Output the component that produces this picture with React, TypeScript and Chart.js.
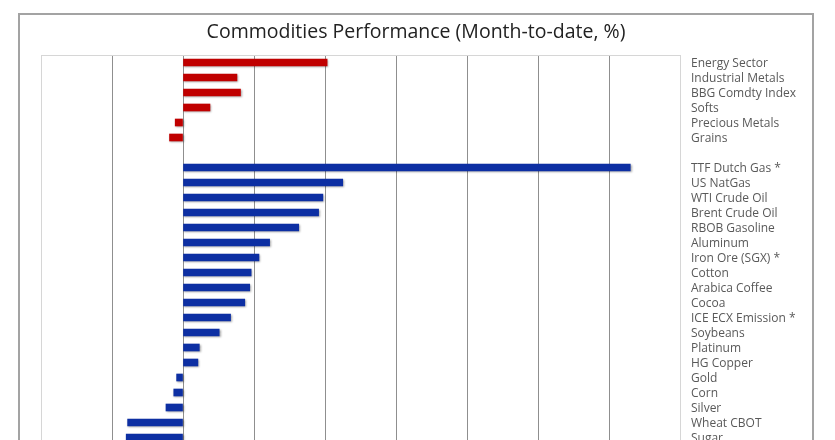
import React, { useEffect, useRef } from "react";
import { Chart, registerables } from "chart.js";

Chart.register(...registerables);

const titleText = "Commodities Performance (Month-to-date, %)";
const sectorLabels = ["Energy Sector", "Industrial Metals", "BBG Comdty Index", "Softs", "Precious Metals", "Grains"];
const sectorValues = [20.3, 7.6, 8.1, 3.8, -1.1, -1.9];
const commodityLabels = [
  "TTF Dutch Gas *", "US NatGas", "WTI Crude Oil", "Brent Crude Oil", "RBOB Gasoline", "Aluminum",
  "Iron Ore (SGX) *", "Cotton", "Arabica Coffee", "Cocoa", "ICE ECX Emission *", "Soybeans",
  "Platinum", "HG Copper", "Gold", "Corn", "Silver", "Wheat CBOT", "Sugar",
];
const commodityValues = [63.0, 22.5, 19.7, 19.1, 16.3, 12.2, 10.7, 9.6, 9.4, 8.7, 6.7, 5.1, 2.3, 2.1, -0.9, -1.3, -2.4, -7.8, -8.0];
const xMin = -20;
const xMax = 70;
const xStep = 10;

export default function App() {
  const ref = useRef<HTMLCanvasElement | null>(null);

  useEffect(() => {
    if (!ref.current) return;
    const labels = [...sectorLabels, "", ...commodityLabels];
    const sectorData = [...sectorValues, ...new Array(1 + commodityLabels.length).fill(null)];
    const commodityData = [...new Array(sectorLabels.length + 1).fill(null), ...commodityValues];

    const titlePlugin = {
      id: "customTitle",
      afterDraw(chart: any) {
        const ctx = chart.ctx;
        ctx.save();
        ctx.font = "19.5px 'Open Sans'";
        ctx.fillStyle = "#222222";
        ctx.textAlign = "center";
        ctx.textBaseline = "middle";
        ctx.fillText(titleText, chart.width / 2, 17);
        ctx.restore();
      },
    };
    const borderPlugin = {
      id: "plotBorder",
      beforeDatasetsDraw(chart: any) {
        const { ctx, chartArea: a } = chart;
        ctx.save();
        ctx.strokeStyle = "#d6d6d6";
        ctx.lineWidth = 1;
        ctx.strokeRect(Math.round(a.left) + 0.5, Math.round(a.top) + 0.5, Math.round(a.right - a.left), Math.round(a.bottom - a.top));
        ctx.restore();
      },
    };
    const shadowPlugin = {
      id: "barShadow",
      beforeDatasetDraw(chart: any) {
        const ctx = chart.ctx;
        ctx.save();
        ctx.shadowColor = "rgba(0,0,0,0.35)";
        ctx.shadowBlur = 2;
        ctx.shadowOffsetX = 1;
        ctx.shadowOffsetY = 1;
      },
      afterDatasetDraw(chart: any) {
        chart.ctx.restore();
      },
    };

    const chart = new Chart(ref.current, {
      type: "bar",
      data: {
        labels,
        datasets: [
          { data: sectorData, backgroundColor: "#c00000", barThickness: 7, grouped: false } as any,
          { data: commodityData, backgroundColor: "#0d2fa3", barThickness: 7, grouped: false } as any,
        ],
      },
      options: {
        indexAxis: "y",
        responsive: false,
        animation: false,
        devicePixelRatio: 1,
        layout: { padding: { left: 21, top: 40, right: 0, bottom: 36 } },
        plugins: { legend: { display: false }, title: { display: false }, tooltip: { enabled: false } },
        scales: {
          x: {
            type: "linear",
            min: xMin,
            max: xMax,
            ticks: { display: false, stepSize: xStep },
            grid: {
              drawTicks: false,
              color: (c: any) => (c.tick && (c.tick.value === xMin || c.tick.value === xMax) ? "#d6d6d6" : "#8f8f8f"),
            },
            border: { display: false },
            afterFit: (s: any) => { s.height = 0; },
          },
          y: {
            type: "category",
            position: "right",
            grid: { display: false, drawTicks: false },
            border: { display: false },
            ticks: {
              autoSkip: false,
              color: "#595959",
              padding: 11,
              labelOffset: 1,
              font: { family: "'Open Sans'", size: 12 },
            },
            afterFit: (s: any) => { s.width = 132; },
          },
        },
      } as any,
      plugins: [titlePlugin, borderPlugin, shadowPlugin],
    });
    return () => chart.destroy();
  }, []);

  return (
    <div
      style={{
        position: "fixed",
        left: 18,
        top: 13,
        width: 796,
        height: 470,
        border: "2px solid #a3a3a3",
        boxSizing: "border-box",
        background: "#ffffff",
      }}
    >
      <canvas ref={ref} width={792} height={466} style={{ display: "block" }} />
    </div>
  );
}
